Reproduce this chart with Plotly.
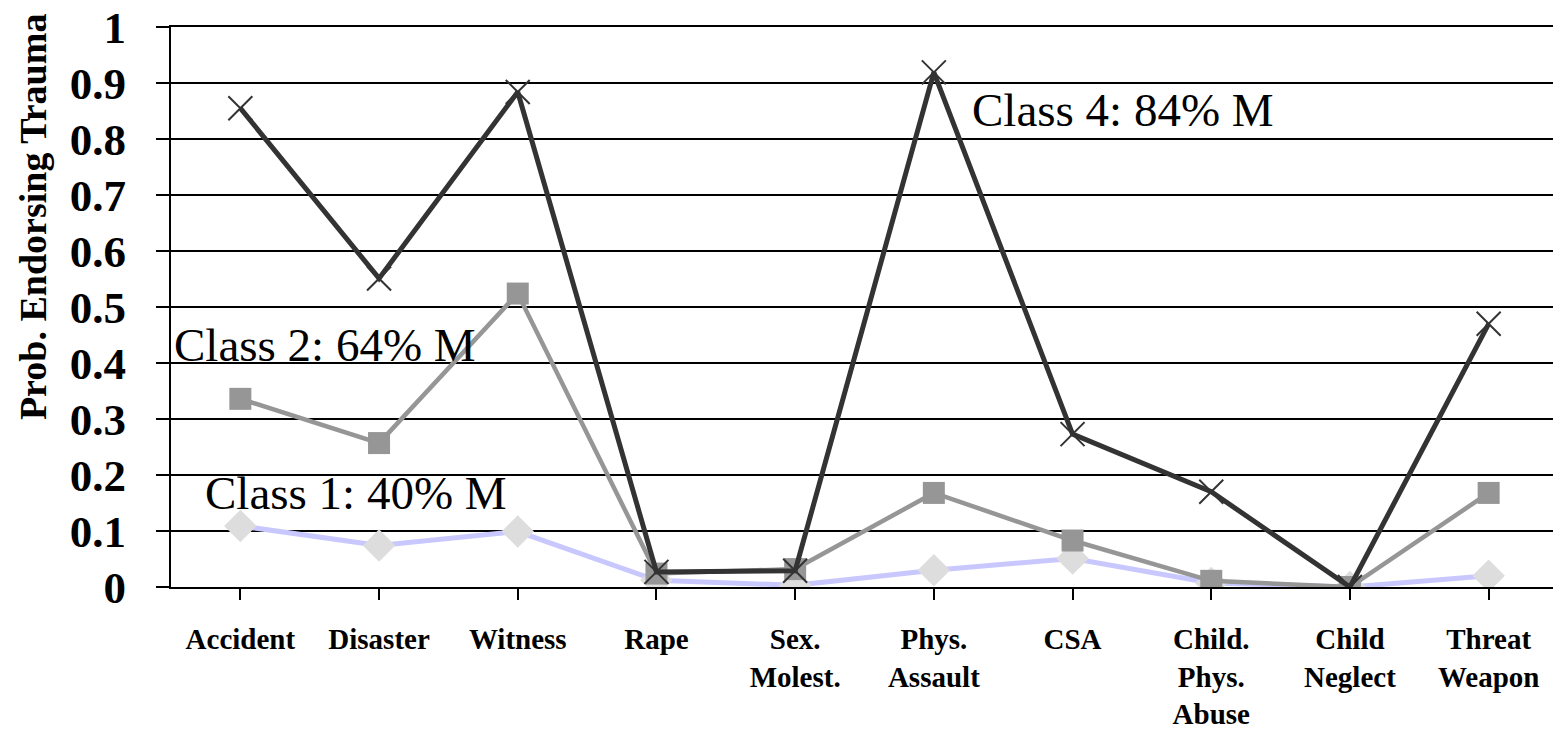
import plotly.graph_objects as go

categories = ["Accident", "Disaster", "Witness", "Rape", "Sex.<br>Molest.",
              "Phys.<br>Assault", "CSA", "Child.<br>Phys.<br>Abuse",
              "Child<br>Neglect", "Threat<br>Weapon"]
class1 = [0.109, 0.074, 0.099, 0.012, 0.003, 0.030, 0.051, 0.007, 0.0, 0.020]
class2 = [0.336, 0.257, 0.524, 0.024, 0.032, 0.168, 0.083, 0.011, 0.0, 0.168]
class4 = [0.855, 0.551, 0.884, 0.027, 0.029, 0.919, 0.273, 0.170, 0.0, 0.470]
y_ticks = [0, 0.1, 0.2, 0.3, 0.4, 0.5, 0.6, 0.7, 0.8, 0.9, 1]
y_tick_text = ["0", "0.1", "0.2", "0.3", "0.4", "0.5", "0.6", "0.7", "0.8", "0.9", "1"]

xs = list(range(len(categories)))
SERIF = "Liberation Serif, Times New Roman, serif"

fig = go.Figure()
fig.add_trace(go.Scatter(
    x=xs, y=class1, mode="lines+markers", name="Class 1",
    line=dict(color="#c8c8ff", width=5),
    marker=dict(symbol="diamond", size=25, color="#dddddd", line=dict(width=0)),
))
fig.add_trace(go.Scatter(
    x=xs, y=class2, mode="lines+markers", name="Class 2",
    line=dict(color="#969696", width=4.5),
    marker=dict(symbol="square", size=22, color="#969696", line=dict(width=0)),
))
fig.add_trace(go.Scatter(
    x=xs, y=class4, mode="lines+markers", name="Class 4",
    line=dict(color="#333333", width=5),
    marker=dict(symbol="x-thin-open", size=24, color="#333333",
                line=dict(width=2, color="#333333")),
))

# The page body has an 8px default margin; offsets compensate so the plot
# area lands at x 171..1558 and y 27..587 in the window.
fig.update_layout(
    width=1561, height=732,
    margin=dict(l=163, r=11, t=19, b=153, autoexpand=False),
    paper_bgcolor="white", plot_bgcolor="white",
    showlegend=False,
    font=dict(family=SERIF, color="black"),
    xaxis=dict(
        range=[-0.5, 9.5], tickmode="array", tickvals=xs, ticktext=[f"<b>{c}</b>" for c in categories],
        tickson="boundaries", ticks="outside", ticklen=11, tickwidth=2, tickcolor="black",
        showline=True, linecolor="black", linewidth=2, mirror=True,
        showgrid=False, zeroline=False, automargin=False, ticklabeloverflow="allow",
        tickfont=dict(family=SERIF, size=29, color="black"),
        ticklabelstandoff=14,
    ),
    yaxis=dict(
        range=[0, 1], tickmode="array", tickvals=y_ticks,
        ticktext=[f"<b>{t}</b>" for t in y_tick_text],
        ticks="outside", ticklen=13, tickwidth=2, tickcolor="black",
        showline=True, linecolor="black", linewidth=2, mirror=True,
        showgrid=True, gridcolor="black", gridwidth=2, zeroline=False, automargin=False,
        ticklabeloverflow="allow",
        tickfont=dict(family=SERIF, size=45, color="black"),
        ticklabelstandoff=21,
    ),
)

fig.add_annotation(
    text="<b>Prob. Endorsing Trauma</b>", xref="paper", yref="paper",
    x=-0.099, y=0.66, xanchor="center", yanchor="middle", textangle=-90,
    showarrow=False, font=dict(family=SERIF, size=38, color="black"),
)

labels = [("Class 4: 84% M", 5.26, 0.852), ("Class 2: 64% M", -0.49, 0.432),
          ("Class 1: 40% M", -0.27, 0.168)]
for txt, lx, ly in labels:
    fig.add_annotation(text=txt, x=lx, y=ly, xref="x", yref="y",
                       xanchor="left", yanchor="middle", showarrow=False,
                       font=dict(family=SERIF, size=47, color="black"))

fig.write_html("out.html")
